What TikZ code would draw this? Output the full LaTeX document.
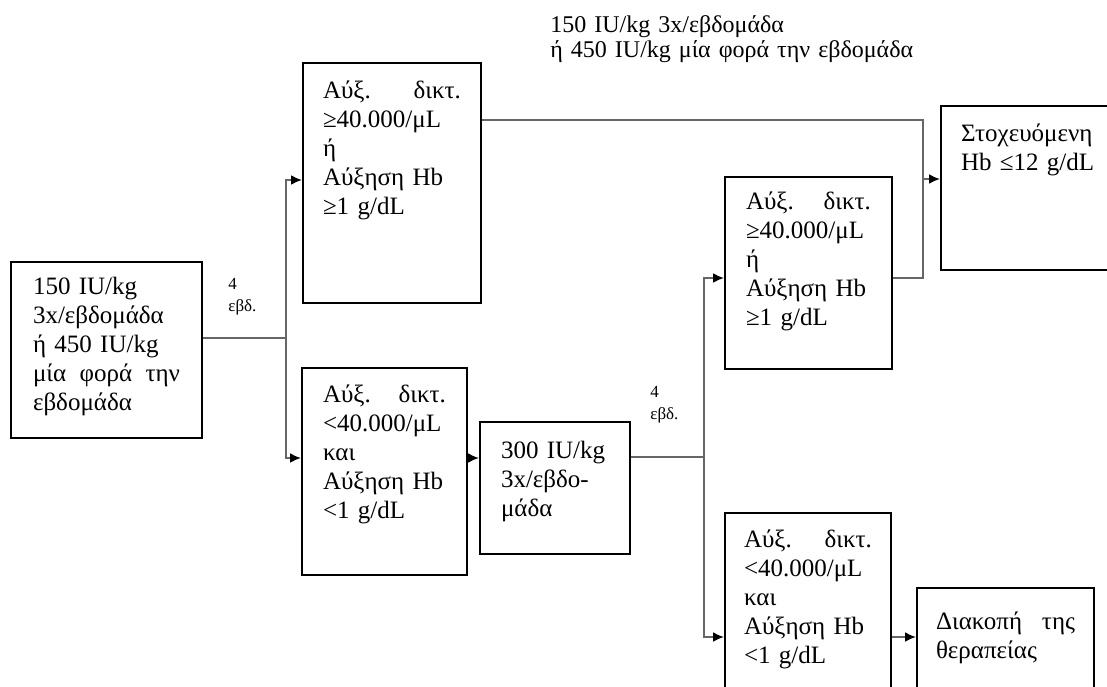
\documentclass[tikz,border=0pt]{standalone}
\usepackage{fontspec}
\setmainfont{Liberation Serif}
\usetikzlibrary{arrows.meta}

\begin{document}
\begin{tikzpicture}[x=0.5pt, y=-0.5pt,
  every node/.style={align=left, anchor=north west, inner ysep=0pt, font=\fontsize{12.5pt}{14.5pt}\selectfont},
  box/.style n args={4}{draw, line width=1pt, inner xsep=#1, text width=#2, text height=#3, text depth=#4},
  wk/.style={inner sep=0pt, text width=20pt, text height=0pt, font=\fontsize{8.5pt}{11pt}\selectfont},
  link/.style={draw=black!60, line width=1pt},
  arr/.style={link, -{Latex[length=5.5pt, width=5pt, color=black]}}]
\useasboundingbox (0,0) rectangle (1107,686);

% boxes
\node[box={11pt}{73.5pt}{16pt}{72pt}] (start) at (10,261) {150 IU/kg\\3x/εβδομάδα\\ή 450 IU/kg\\μία\hfill φορά\hfill την\\εβδομάδα};
\node[box={10pt}{69pt}{17.5pt}{102.5pt}] (resp1) at (302,62) {Αύξ.\hfill δικτ.\\≥40.000/μL\\ή\\Αύξηση Hb\\≥1 g/dL};
\node[box={10.5pt}{61.5pt}{17pt}{86.5pt}] (noresp1) at (301,367) {Αύξ.\hfill δικτ.\\<40.000/μL\\και\\Αύξηση Hb\\<1 g/dL};
\node[box={10.5pt}{54pt}{18pt}{48pt}] (dose) at (479,421) {300 IU/kg\\3x/εβδο-\\μάδα};
\node[box={10.5pt}{62.5pt}{16pt}{80pt}] (resp2) at (724,176) {Αύξ.\hfill δικτ.\\≥40.000/μL\\ή\\Αύξηση Hb\\≥1 g/dL};
\node[box={10pt}{68pt}{17.5pt}{64.5pt}] (target) at (940,105) {Στοχευόμενη\\Hb ≤12 g/dL};
\node[box={9.5pt}{64pt}{17pt}{83pt}] (noresp2) at (724,512) {Αύξ.\hfill δικτ.\\<40.000/μL\\και\\Αύξηση Hb\\<1 g/dL};
\node[box={9.5pt}{69.5pt}{20.5pt}{39.5pt}] (stop) at (916,587) {Διακοπή\hfill της\\θεραπείας};

% labels
\node[wk] (wk1) at (228,289) {4\\εβδ.};
\node[wk] (wk2) at (650,397) {4\\εβδ.};
\node[inner sep=0pt, text width=200pt, text height=0pt, font=\fontsize{12pt}{12.5pt}\selectfont] (keep) at (550,32) {150 IU/kg 3x/εβδομάδα\\ή 450 IU/kg μία φορά την εβδομάδα};

% junctions
\coordinate (j1) at (286,338);
\coordinate (up1) at (286,180);
\coordinate (dn1) at (286,458);
\coordinate (j2) at (704,457);
\coordinate (up2) at (704,278);
\coordinate (dn2) at (704,637);
\coordinate (t3) at (923,120);
\coordinate (j3) at (923,179);
\coordinate (b3) at (923,278);

\draw[link] (start.east |- j1) -- (j1);
\draw[arr] (j1) -- (up1) -- (resp1.west |- up1);
\draw[arr] (j1) -- (dn1) -- (noresp1.west |- dn1);
\draw[arr] (noresp1.east |- dn1) -- (dose.west |- dn1);
\draw[link] (dose.east |- j2) -- (j2);
\draw[arr] (j2) -- (up2) -- (resp2.west |- up2);
\draw[arr] (j2) -- (dn2) -- (noresp2.west |- dn2);
\draw[arr] (noresp2.east |- dn2) -- (stop.west |- dn2);
\draw[link] (resp1.east |- t3) -- (t3) -- (b3) -- (resp2.east |- b3);
\draw[arr] (j3) -- (target.west |- j3);
\end{tikzpicture}
\end{document}
